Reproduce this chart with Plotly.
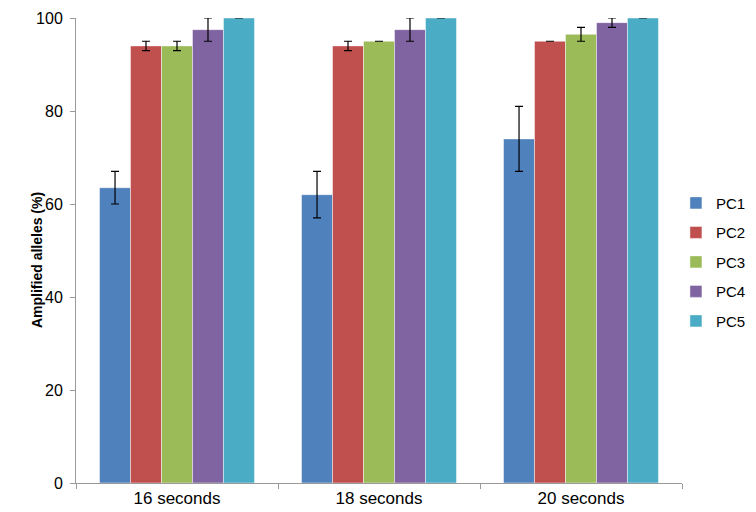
import plotly.graph_objects as go

categories = ["16 seconds", "18 seconds", "20 seconds"]
series_names = ["PC1", "PC2", "PC3", "PC4", "PC5"]
pc1 = [63.5, 62.0, 74.0]
pc2 = [94.0, 94.0, 95.0]
pc3 = [94.0, 95.0, 96.5]
pc4 = [97.5, 97.5, 99.0]
pc5 = [100.0, 100.0, 100.0]
pc1_err = [3.5, 5.0, 7.0]
pc2_err = [1.0, 1.0, 0.0]
pc3_err = [1.0, 0.0, 1.5]
pc4_err = [2.5, 2.5, 1.0]
pc5_err = [0.0, 0.0, 0.0]
y_ticks = [0, 20, 40, 60, 80, 100]

values = [pc1, pc2, pc3, pc4, pc5]
errors = [pc1_err, pc2_err, pc3_err, pc4_err, pc5_err]
colors = ["#4F81BD", "#C0504D", "#9BBB59", "#8064A2", "#4BACC6"]

fig = go.Figure()
for name, v, e, c in zip(series_names, values, errors, colors):
    fig.add_trace(go.Bar(
        x=categories, y=v, name=name, legendgroup=name,
        marker=dict(color=c, line=dict(color="rgba(255,255,255,0.45)", width=1)),
        error_y=dict(type="data", array=e, visible=True, color="#000000",
                     thickness=1.2, width=4),
    ))

fig.update_layout(
    width=748, height=504,
    margin=dict(l=68, r=74, t=10, b=29, autoexpand=False),
    barmode="group", bargap=0.233, bargroupgap=0,
    plot_bgcolor="white", paper_bgcolor="white",
    font=dict(family="Liberation Sans, Arial, sans-serif", size=14, color="#000000"),
    legend=dict(x=0.99, y=0.475, xanchor="left", yanchor="middle",
                tracegroupgap=7, font=dict(size=15), itemwidth=30),
    showlegend=True,
)
fig.update_xaxes(
    showline=True, linecolor="#9a9a9a", linewidth=1,
    ticks="outside", tickson="boundaries", ticklen=5, tickcolor="#9a9a9a",
    showgrid=False, tickfont=dict(size=17),
)
fig.update_yaxes(
    range=[0, 100], tickvals=y_ticks,
    showline=True, linecolor="#9a9a9a", linewidth=1,
    ticks="outside", ticklen=5, tickcolor="#9a9a9a",
    showgrid=False, zeroline=False, tickfont=dict(size=16),
    ticklabelstandoff=4,
)
fig.add_annotation(
    text="<b>Amplified alleles (%)</b>", textangle=-90,
    xref="paper", yref="paper", x=-0.064, y=0.48,
    xanchor="center", yanchor="middle", showarrow=False,
    font=dict(size=14),
)

fig.write_html("out.html")
